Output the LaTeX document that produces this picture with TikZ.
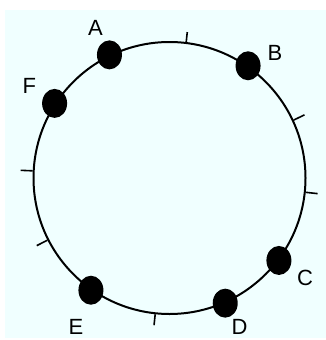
\documentclass[tikz,border=0pt]{standalone}
\usepackage{fontspec}
\setmainfont{Liberation Sans}
\usetikzlibrary{shapes.geometric}
\definecolor{bgcyan}{HTML}{F0FFFF}
\tikzset{
  ring/.style={circle, draw=black, line width=2pt, minimum size=272pt, inner sep=0pt},
  peer/.style={ellipse, fill=black, minimum width=25pt, minimum height=29pt, inner sep=0pt},
  tick/.style={draw=black, line width=1.6pt},
  lab/.style={font=\fontsize{22}{26}\selectfont, inner sep=0pt}
}
\begin{document}
\begin{tikzpicture}[x=1pt,y=-1pt]
\useasboundingbox (0,0) rectangle (326,340);
\fill[bgcyan] (5,10) rectangle (326,338);
\node[ring] (r) at (169.5,178) {};
% ticks
\foreach \a/\l in {83.7/10, 25.9/12, -6.4/12, 177.5/12, 207/12, 264/11}{
  \draw[tick] (r.\a) -- ++(-\a:\l);
}
% peers
\node[peer] (A) at (r.116.6) {};
\node[peer] (B) at (r.55.4) {};
\node[peer] (F) at (r.147.8) {};
\node[peer] (C) at (r.-37.3) {};
\node[peer] (D) at (r.-66.8) {};
\node[peer] (E) at (r.235.4) {};
% labels
\node[lab] (lA) at (95.5,28) {A};
\node[lab] (lB) at (275,53) {B};
\node[lab] (lF) at (29.3,86) {F};
\node[lab] (lC) at (305,278) {C};
\node[lab] (lD) at (239.5,327) {D};
\node[lab] (lE) at (76,327) {E};
\end{tikzpicture}
\end{document}
